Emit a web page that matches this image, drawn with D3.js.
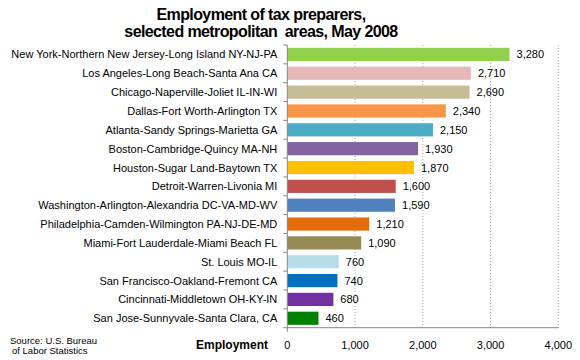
<!DOCTYPE html>
<html><head><meta charset="utf-8">
<script src="https://cdn.jsdelivr.net/npm/d3@7"></script>
<style>body{margin:0;background:#fff;} text{font-family:Arial,"Liberation Sans",sans-serif;}</style>
</head><body>
<svg id="c" width="580" height="360"></svg>
<script>
const categories = ["New York-Northern New Jersey-Long Island NY-NJ-PA","Los Angeles-Long Beach-Santa Ana CA","Chicago-Naperville-Joliet IL-IN-WI","Dallas-Fort Worth-Arlington TX","Atlanta-Sandy Springs-Marietta GA","Boston-Cambridge-Quincy MA-NH","Houston-Sugar Land-Baytown TX","Detroit-Warren-Livonia MI","Washington-Arlington-Alexandria DC-VA-MD-WV","Philadelphia-Camden-Wilmington PA-NJ-DE-MD","Miami-Fort Lauderdale-Miami Beach FL","St. Louis MO-IL","San Francisco-Oakland-Fremont CA","Cincinnati-Middletown OH-KY-IN","San Jose-Sunnyvale-Santa Clara, CA"];
const values = [3280,2710,2690,2340,2150,1930,1870,1600,1590,1210,1090,760,740,680,460];
const colors = ["#92D050","#E6B9B8","#C4BD97","#F79646","#4BACC6","#8064A2","#FFC000","#C0504D","#4F81BD","#E46C0A","#948A54","#B7DEE8","#0070C0","#7030A0","#008000"];
const xTicks = [0,1000,2000,3000,4000];

const svg = d3.select("#c");
const L=287.3, R=558.3, T=45, B=327.7;
const x = d3.scaleLinear().domain([0,4000]).range([L,R]);
const y = d3.scaleBand().domain(categories).range([T,B]).paddingInner(0.3).paddingOuter(0.15);
const fmt = d3.format(",");

// title
const title = svg.append("text").attr("x",261).attr("text-anchor","middle").attr("font-weight","bold").attr("font-size",16).attr("letter-spacing",-0.6).attr("xml:space","preserve");
title.append("tspan").attr("x",261).attr("y",20).text("Employment of tax preparers,");
title.append("tspan").attr("x",261).attr("y",37).text("selected metropolitan  areas, May 2008");

// gridlines
svg.append("g").selectAll("line").data(xTicks.slice(1)).join("line")
  .attr("x1",d=>x(d)).attr("x2",d=>x(d)).attr("y1",T).attr("y2",B)
  .attr("stroke","#a6a6a6").attr("stroke-width",1).attr("stroke-dasharray","1,2");

// bars
svg.append("g").selectAll("rect").data(values).join("rect")
  .attr("x",x(0)).attr("y",(d,i)=>y(categories[i])).attr("width",d=>x(d)-x(0)).attr("height",y.bandwidth())
  .attr("fill",(d,i)=>colors[i]);

// value labels
svg.append("g").selectAll("text").data(values).join("text")
  .attr("x",d=>x(d)+7).attr("y",(d,i)=>y(categories[i])+y.bandwidth()/2+4)
  .attr("font-size",11).attr("fill","#000").text(d=>fmt(d));

// y axis
const yAxisBand = d3.scaleBand().domain(categories).range([T,B]);
svg.append("line").attr("x1",L).attr("x2",L).attr("y1",T).attr("y2",B).attr("stroke","#868686");
svg.append("g").selectAll("line").data(d3.range(categories.length+1)).join("line")
  .attr("x1",L-4).attr("x2",L).attr("y1",i=>T+i*yAxisBand.step()).attr("y2",i=>T+i*yAxisBand.step()).attr("stroke","#868686");
svg.append("g").selectAll("text").data(categories).join("text")
  .attr("x",L-10).attr("y",d=>yAxisBand(d)+yAxisBand.bandwidth()/2+4).attr("text-anchor","end")
  .attr("font-size",11).attr("fill","#000").text(d=>d);

// x axis
svg.append("line").attr("x1",L).attr("x2",R).attr("y1",B).attr("y2",B).attr("stroke","#868686");
svg.append("line").attr("x1",L).attr("x2",L).attr("y1",B).attr("y2",B+4).attr("stroke","#868686");
svg.append("g").selectAll("text").data(xTicks).join("text")
  .attr("x",d=>x(d)).attr("y",349).attr("text-anchor","middle").attr("font-size",11).attr("fill","#000").text(d=>fmt(d));

svg.append("text").attr("x",268).attr("y",349).attr("text-anchor","end").attr("font-weight","bold").attr("font-size",12).text("Employment");

const src = svg.append("text").attr("font-size",9.5).attr("fill","#000");
src.append("tspan").attr("x",10).attr("y",344).text("Source: U.S. Bureau");
src.append("tspan").attr("x",12).attr("y",354).text("of Labor Statistics");
</script>
</body></html>
